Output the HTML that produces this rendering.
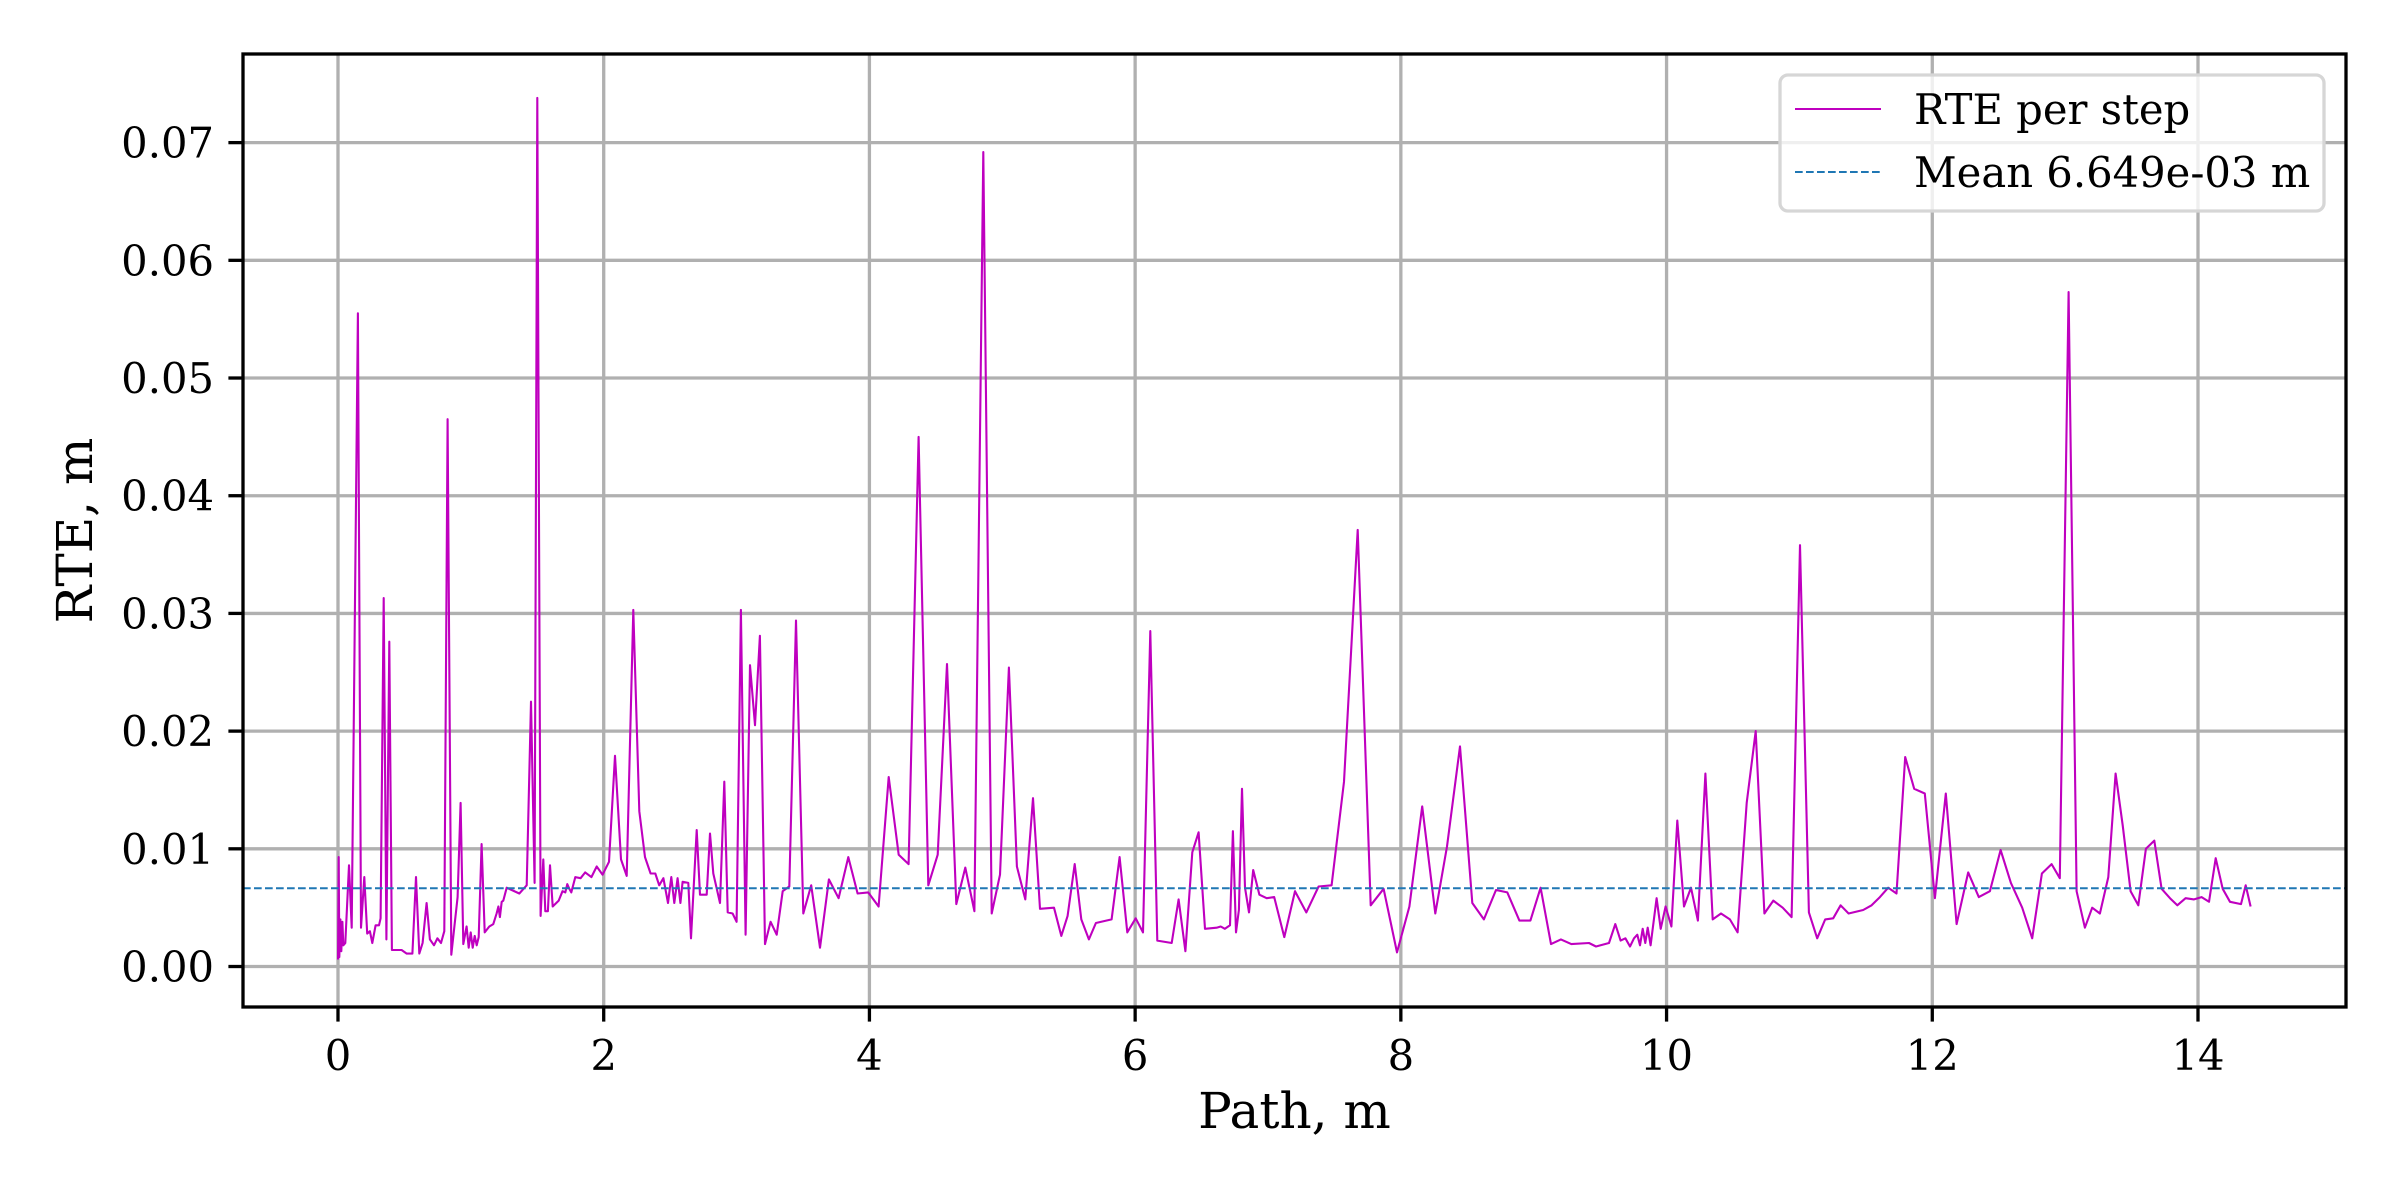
<!DOCTYPE html>
<html><head><meta charset="utf-8"><style>
html,body{margin:0;padding:0;background:#fff;}
svg{display:block;font-family:"DejaVu Serif","Liberation Serif",serif;}
</style></head><body>
<svg id="chart" width="2400" height="1200" viewBox="0 0 2400 1200" xmlns="http://www.w3.org/2000/svg">
<rect x="0" y="0" width="2400" height="1200" fill="#fff"/>
<g id="grid"></g>
<g id="series"></g>
<g id="axes"></g>
</svg>
<script>
const pathValues = [0,0.005,0.01,0.018,0.025,0.033,0.04,0.055,0.083,0.103,0.15,0.173,0.198,0.22,0.24,0.258,0.283,0.309,0.321,0.344,0.364,0.386,0.406,0.479,0.517,0.56,0.587,0.612,0.637,0.667,0.692,0.723,0.748,0.775,0.80,0.825,0.853,0.90,0.923,0.943,0.968,0.984,0.999,1.014,1.029,1.044,1.059,1.081,1.104,1.139,1.169,1.194,1.207,1.219,1.232,1.244,1.27,1.365,1.42,1.453,1.48,1.50,1.525,1.545,1.56,1.58,1.596,1.616,1.661,1.69,1.711,1.726,1.741,1.756,1.786,1.826,1.861,1.907,1.947,1.992,2.04,2.085,2.13,2.173,
2.223,2.268,2.311,2.353,2.388,2.418,2.449,2.484,2.509,2.531,2.556,2.577,2.594,2.637,2.657,2.7,2.725,2.775,2.80,2.825,2.875,2.908,2.933,2.97,3.0,3.033,3.068,3.101,3.139,3.176,3.214,3.256,3.302,3.347,3.397,3.447,3.502,3.562,3.628,3.695,3.768,3.841,3.911,3.991,4.069,4.145,4.22,4.295,4.37,
4.443,4.514,4.584,4.654,4.722,4.79,4.857,4.92,4.983,5.05,5.11,5.173,5.231,5.284,5.389,5.444,5.492,5.545,5.595,5.652,5.705,5.823,5.883,5.941,6.004,6.059,6.114,6.167,6.275,6.327,6.378,6.43,6.478,
6.526,6.613,6.644,6.676,6.714,6.736,6.759,6.781,6.804,6.827,6.857,6.889,6.935,6.99,7.047,7.123,7.203,7.288,7.381,7.479,7.572,7.675,7.773,7.87,7.971,8.064,8.161,8.259,8.347,8.445,8.538,8.625,8.716,
8.801,8.892,8.975,9.052,9.13,9.205,9.283,9.416,9.469,9.567,9.614,9.654,9.69,9.725,9.755,9.78,9.8,9.82,9.84,9.858,9.88,9.925,9.956,9.993,10.036,10.081,10.131,10.184,10.236,10.292,10.347,10.41,10.477,10.535,10.603,10.671,10.736,10.803,10.874,
10.941,11.004,11.071,11.134,11.194,11.254,11.31,11.37,11.48,11.543,11.606,11.668,11.731,11.796,11.864,11.944,12.02,12.102,12.183,12.27,12.35,12.434,12.514,12.592,12.677,12.752,12.825,12.898,12.96,13.026,13.086,
13.149,13.204,13.262,13.325,13.38,13.433,13.493,13.551,13.608,13.671,13.726,13.789,13.844,13.907,13.97,14.027,14.083,14.133,14.186,14.241,14.324,14.359,14.396];
const rteValuesMm = [0.6,9.3,0.8,4.0,1.3,3.8,1.8,2.0,8.6,3.3,55.5,3.3,7.6,2.8,3.0,2.0,3.5,3.5,4.1,31.3,2.3,27.6,1.4,1.4,1.1,1.1,7.6,1.1,2.0,5.4,2.3,1.8,2.4,2.0,3.0,46.5,1.0,5.9,13.9,1.9,3.4,1.6,2.9,1.6,2.6,1.8,2.5,10.4,2.9,3.4,3.6,4.5,5.1,4.2,5.5,5.6,6.7,6.2,6.9,22.5,7.1,73.8,4.3,9.1,4.7,4.7,8.6,5.1,5.6,6.4,6.3,7.0,6.6,6.3,7.6,7.5,8.0,7.6,8.5,7.8,8.9,17.9,9.1,7.7,
30.3,13.2,9.3,7.9,7.9,6.9,7.5,5.4,7.6,5.4,7.5,5.4,7.2,7.1,2.4,11.6,6.1,6.1,11.3,7.9,5.4,15.7,4.6,4.5,3.8,30.3,2.7,25.6,20.5,28.1,1.9,3.8,2.7,6.4,6.8,29.4,4.5,6.9,1.6,7.4,5.8,9.3,6.2,6.3,5.1,16.1,9.5,8.7,45.0,
6.9,9.5,25.7,5.3,8.4,4.7,69.2,4.5,7.8,25.4,8.5,5.7,14.3,4.9,5.0,2.6,4.3,8.7,4.0,2.3,3.7,4.0,9.3,2.9,4.1,2.9,28.5,2.2,2.0,5.7,1.3,9.7,11.4,
3.2,3.3,3.4,3.2,3.5,11.5,2.9,4.8,15.1,6.7,4.6,8.2,6.1,5.8,5.9,2.5,6.4,4.6,6.8,6.9,15.7,37.1,5.2,6.6,1.2,5.1,13.6,4.5,10.2,18.7,5.4,4.0,6.5,
6.3,3.9,3.9,6.7,1.9,2.3,1.9,2.0,1.7,2.0,3.6,2.2,2.4,1.7,2.4,2.7,1.8,3.2,2.0,3.3,1.8,5.8,3.2,5.1,3.4,12.4,5.1,6.7,3.9,16.4,4.0,4.5,4.0,2.9,13.9,20.0,4.5,5.6,5.0,
4.2,35.8,4.6,2.4,4.0,4.1,5.2,4.5,4.8,5.2,5.9,6.7,6.2,17.8,15.1,14.7,5.8,14.7,3.6,8.0,5.9,6.4,9.9,7.1,5.0,2.4,7.9,8.7,7.5,57.3,6.4,
3.3,5.0,4.5,7.6,16.4,12.0,6.4,5.2,10.0,10.7,6.6,5.8,5.2,5.8,5.7,5.9,5.5,9.2,6.6,5.5,5.3,6.9,5.1];
const meanValue = 0.006649;
const xTicks = [0,2,4,6,8,10,12,14];
const yTicks = [0,0.01,0.02,0.03,0.04,0.05,0.06,0.07];
const yTickLabels = ["0.00","0.01","0.02","0.03","0.04","0.05","0.06","0.07"];

const L=243,R=2346,T=54,B=1007;
const xMin=-0.715,xMax=15.114,yMin=-0.00344,yMax=0.07753;
const sx=v=>L+(v-xMin)/(xMax-xMin)*(R-L);
const sy=v=>B-(v-yMin)/(yMax-yMin)*(B-T);
const NS="http://www.w3.org/2000/svg";
function mk(tag,attrs,parent,text){const e=document.createElementNS(NS,tag);for(const k in attrs)e.setAttribute(k,attrs[k]);if(text!==undefined)e.textContent=text;parent.appendChild(e);return e;}
const grid=document.getElementById('grid'),series=document.getElementById('series'),axes=document.getElementById('axes');

xTicks.forEach(t=>{const x=sx(t);
 const g=mk('line',{x1:x,x2:x,y1:T,y2:B,stroke:'#b0b0b0','stroke-width':3.3},grid);
 
 
 const tk=mk('line',{x1:x,x2:x,y1:B,y2:B+14.6,stroke:'#000','stroke-width':3.3},axes);
 
 
 const lb=mk('text',{x:x,y:B+63,'font-size':41.7,'text-anchor':'middle',fill:'#000'},axes,String(t));
 
 
});
yTicks.forEach((t,i)=>{const y=sy(t);
 const g=mk('line',{x1:L,x2:R,y1:y,y2:y,stroke:'#b0b0b0','stroke-width':3.3},grid);
 
 
 const tk=mk('line',{x1:L-14.6,x2:L,y1:y,y2:y,stroke:'#000','stroke-width':3.3},axes);
 
 
 const lb=mk('text',{x:L-29,y:y+15,'font-size':41.7,'text-anchor':'end',fill:'#000'},axes,yTickLabels[i]);
 
 
});

let d='';
pathValues.forEach((p,i)=>{d+=(i?'L':'M')+sx(p).toFixed(1)+' '+sy(rteValuesMm[i]/1000).toFixed(1);});
const ln=mk('path',{d:d,fill:'none',stroke:'#bf00bf','stroke-width':2.1,'stroke-linejoin':'round'},series);


const my=sy(meanValue);
const ml=mk('line',{x1:L,x2:R,y1:my,y2:my,stroke:'#1f77b4','stroke-width':2.1,'stroke-dasharray':'7.7 3.3'},series);



const fr=mk('rect',{x:L,y:T,width:R-L,height:B-T,fill:'none',stroke:'#000','stroke-width':3.3},axes);



const xl=mk('text',{x:(L+R)/2,y:1128,'font-size':50,'text-anchor':'middle',fill:'#000'},axes,'Path, m');


const yl=mk('text',{x:0,y:0,'font-size':50,'text-anchor':'middle',fill:'#000',transform:'translate(92,'+((T+B)/2)+') rotate(-90)'},axes,'RTE, m');



const lg=mk('g',{},axes);


mk('rect',{x:1780,y:75,width:544,height:136,rx:8,fill:'rgba(255,255,255,0.8)',stroke:'#d6d6d6','stroke-width':3.3},lg);
const e1=mk('line',{x1:1795,x2:1881,y1:109,y2:109,stroke:'#bf00bf','stroke-width':2.1},lg);


const t1=mk('text',{x:1914,y:124,'font-size':41.7,fill:'#000'},lg,'RTE per step');


const e2=mk('line',{x1:1795,x2:1881,y1:172,y2:172,stroke:'#1f77b4','stroke-width':2.1,'stroke-dasharray':'7.7 3.3'},lg);


const t2=mk('text',{x:1914,y:187,'font-size':41.7,fill:'#000'},lg,'Mean 6.649e-03 m');


</script>
</body></html>
